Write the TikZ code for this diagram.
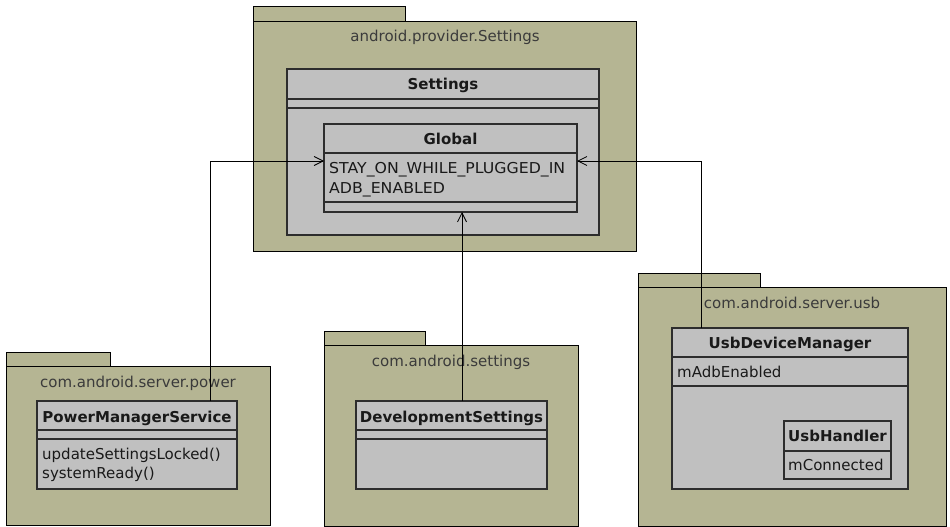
\documentclass[tikz,border=0pt]{standalone}
\usepackage{fontspec}
\setmainfont{DejaVu Sans}
\usetikzlibrary{arrows.meta}
\definecolor{pkgfill}{RGB}{181,181,147}
\definecolor{clsfill}{RGB}{192,192,192}
\definecolor{clsline}{RGB}{45,45,45}
\definecolor{ink}{RGB}{25,25,25}

% \umlbox{style}{name}{x1}{y1}{x2}{y2}: rectangle node spanning the given corners
\newcommand\umlbox[6]{%
  \node[#1, minimum width={#5-#3}, minimum height={#6-#4}]
    (#2) at ({(#3+#5)/2},{(#4+#6)/2}) {};}

\tikzset{
  pkg/.style={draw=black, fill=pkgfill, line width=0.8pt, inner sep=0pt, outer sep=0pt},
  cls/.style={draw=clsline, fill=clsfill, line width=1.2pt, inner sep=0pt, outer sep=0pt},
  sep/.style={draw=clsline, line width=1.2pt},
  pkglabel/.style={anchor=base, inner sep=0pt, text=ink!85, font=\fontsize{15}{17}\selectfont},
  clsname/.style={anchor=base, inner sep=0pt, text=ink, font=\fontsize{15}{17}\selectfont\bfseries},
  member/.style={anchor=base west, inner sep=0pt, text=ink, font=\fontsize{15}{17}\selectfont},
  wide/.style={member, xscale=1.05},
  dep/.style={draw=black, line width=0.8pt, -{Straight Barb[length=9pt,width=9pt]}}
}

\begin{document}
\begin{tikzpicture}[x=1pt,y=-1pt]
\useasboundingbox (0,0) rectangle (950,527);

% ---- package android.provider.Settings
\umlbox{pkg}{settingsTab}{253}{6}{405}{21}
\umlbox{pkg}{settingsPkg}{253}{21}{636}{251}
\node[pkglabel] (settingsPkgName) at (445,42) {android.provider.Settings};

\umlbox{cls}{settings}{287}{69}{599}{235}
\node[clsname] (settingsName) at (443,89) {Settings};
\draw[sep] (settings.west |- 0,99) -- (settings.east |- 0,99);
\draw[sep] (settings.west |- 0,108) -- (settings.east |- 0,108);

\umlbox{cls}{global}{324}{124}{577}{212}
\node[clsname] (globalName) at (450.5,144) {Global};
\draw[sep] (global.west |- 0,153) -- (global.east |- 0,153);
\draw[sep] (global.west |- 0,202) -- (global.east |- 0,202);
\node[wide] (stayOn) at (329,173) {STAY\_ON\_WHILE\_PLUGGED\_IN};
\node[wide] (adbEnabled) at (329,193) {ADB\_ENABLED};

% ---- package com.android.server.power
\umlbox{pkg}{powerTab}{6}{352}{110}{366}
\umlbox{pkg}{powerPkg}{6}{366}{270}{525}
\node[pkglabel] (powerPkgName) at (138,387) {com.android.server.power};

\umlbox{cls}{pms}{37}{401}{237}{489}
\node[clsname] (pmsName) at (137,422) {PowerManagerService};
\draw[sep] (pms.west |- 0,430) -- (pms.east |- 0,430);
\draw[sep] (pms.west |- 0,439) -- (pms.east |- 0,439);
\node[member] (updLocked) at (42,459) {updateSettingsLocked()};
\node[member] (sysReady) at (42,478) {systemReady()};

% ---- package com.android.settings
\umlbox{pkg}{appTab}{324}{331}{425}{345}
\umlbox{pkg}{appPkg}{324}{345}{578}{526}
\node[pkglabel] (appPkgName) at (451,366) {com.android.settings};

\umlbox{cls}{devset}{356}{401}{547}{489}
\node[clsname] (devsetName) at (451.5,422) {DevelopmentSettings};
\draw[sep] (devset.west |- 0,430) -- (devset.east |- 0,430);
\draw[sep] (devset.west |- 0,439) -- (devset.east |- 0,439);

% ---- package com.android.server.usb
\umlbox{pkg}{usbTab}{638}{273}{760}{287}
\umlbox{pkg}{usbPkg}{638}{287}{946}{526}
\node[pkglabel] (usbPkgName) at (792,308) {com.android.server.usb};

\umlbox{cls}{udm}{672}{328}{908}{489}
\node[clsname] (udmName) at (790,348) {UsbDeviceManager};
\draw[sep] (udm.west |- 0,357) -- (udm.east |- 0,357);
\draw[sep] (udm.west |- 0,386) -- (udm.east |- 0,386);
\node[member] (mAdb) at (677,377) {mAdbEnabled};

\umlbox{cls}{usbh}{784}{421}{891}{479}
\node[clsname] (usbhName) at (837.5,441) {UsbHandler};
\draw[sep] (usbh.west |- 0,451) -- (usbh.east |- 0,451);
\node[member] (mConn) at (788,470) {mConnected};

% ---- dependencies on Settings.Global
\draw[dep] ([xshift=73pt]pms.north) |- ([yshift=7pt]global.west);
\draw[dep] ([xshift=-89pt]udm.north) |- ([yshift=7pt]global.east);
\draw[dep] ([xshift=10.5pt]devset.north) -- ([xshift=10.5pt]devset.north |- global.south);
\end{tikzpicture}
\end{document}
